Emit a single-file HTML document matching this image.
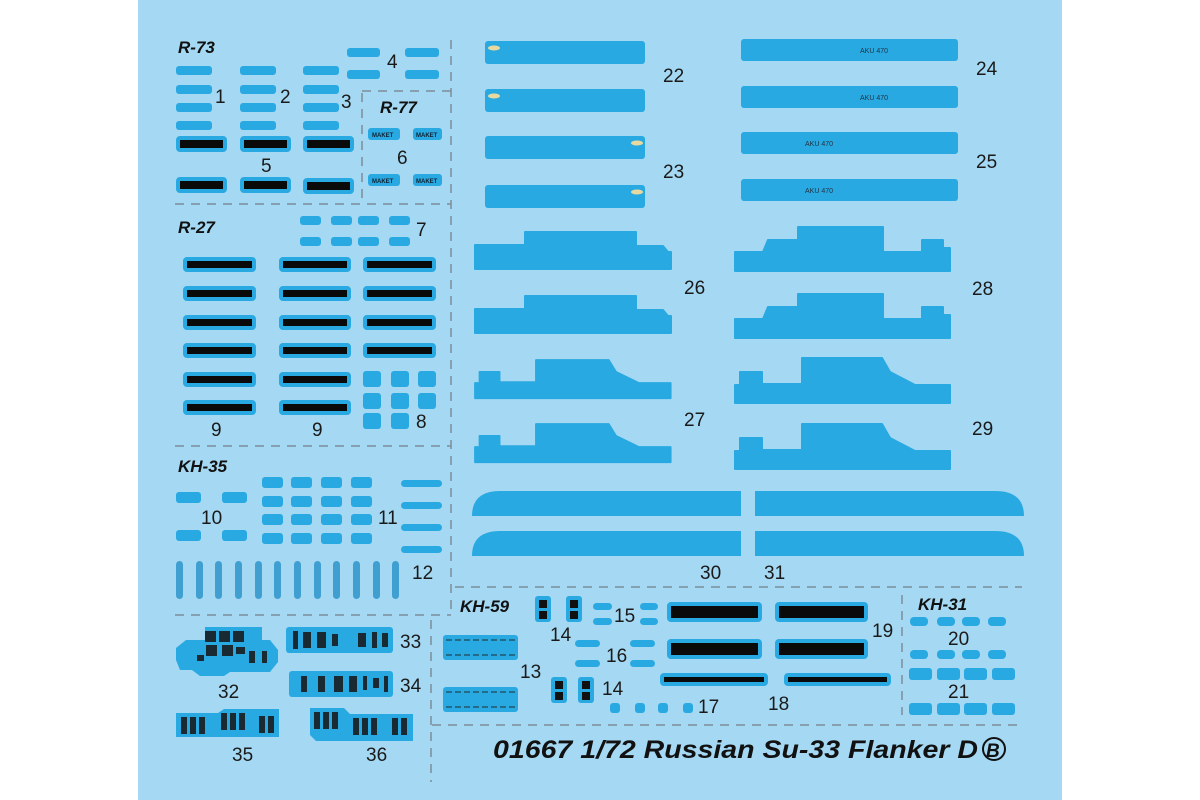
<!DOCTYPE html>
<html><head><meta charset="utf-8"><style>
html,body{margin:0;padding:0;background:#fff;width:1200px;height:800px;overflow:hidden}
svg{display:block}
.n{font-family:"Liberation Sans",sans-serif;font-size:19px;fill:#1a1a1a}
.h{font-family:"Liberation Sans",sans-serif;font-size:17px;font-weight:bold;font-style:italic;fill:#111}
.d{fill:#29a9e1}
.k{fill:#0a0a0a;stroke:#29a9e1;stroke-width:4}
.ds{stroke:#7d8e9a;stroke-width:1.5;stroke-dasharray:9 7;fill:none}
.g{fill:#6a7d88}
</style></head><body>
<svg width="1200" height="800" viewBox="0 0 1200 800" xmlns="http://www.w3.org/2000/svg">
<rect x="138" y="0" width="924" height="800" fill="#a4d8f3"/>

<!-- dashed lines -->
<path class="ds" d="M451 40 V615 M175 615 H451 M362 93 V204 M362 91 H451 M175 204 H451 M175 446 H451 M455 587 H1022 M431 620 V782 M432 725 H1022 M902 595 V715"/>

<!-- R-73 -->
<text class="h" x="178" y="53">R-73</text>
<g class="d">
<rect x="176" y="66" width="36" height="9" rx="3"/><rect x="176" y="85" width="36" height="9" rx="3"/><rect x="176" y="103" width="36" height="9" rx="3"/><rect x="176" y="121" width="36" height="9" rx="3"/>
<rect x="240" y="66" width="36" height="9" rx="3"/><rect x="240" y="85" width="36" height="9" rx="3"/><rect x="240" y="103" width="36" height="9" rx="3"/><rect x="240" y="121" width="36" height="9" rx="3"/>
<rect x="303" y="66" width="36" height="9" rx="3"/><rect x="303" y="85" width="36" height="9" rx="3"/><rect x="303" y="103" width="36" height="9" rx="3"/><rect x="303" y="121" width="36" height="9" rx="3"/>
<rect x="347" y="48" width="33" height="9" rx="3"/><rect x="405" y="48" width="34" height="9" rx="3"/><rect x="347" y="70" width="33" height="9" rx="3"/><rect x="405" y="70" width="34" height="9" rx="3"/>
</g>
<text class="n" x="215" y="103">1</text><text class="n" x="280" y="103">2</text><text class="n" x="341" y="108">3</text><text class="n" x="387" y="68">4</text>
<rect class="k" x="178" y="138" width="47" height="12" rx="2"/><rect class="k" x="242" y="138" width="47" height="12" rx="2"/><rect class="k" x="305" y="138" width="47" height="12" rx="2"/>
<rect class="k" x="178" y="179" width="47" height="12" rx="2"/><rect class="k" x="242" y="179" width="47" height="12" rx="2"/><rect class="k" x="305" y="180" width="47" height="12" rx="2"/>
<text class="n" x="261" y="172">5</text>
<text class="h" x="380" y="113">R-77</text>
<g class="d"><rect x="368" y="128" width="32" height="12" rx="3"/><rect x="413" y="128" width="29" height="12" rx="3"/><rect x="368" y="174" width="32" height="12" rx="3"/><rect x="413" y="174" width="29" height="12" rx="3"/></g>
<g font-family="Liberation Sans" font-size="6" fill="#123" font-weight="bold"><text x="372" y="137">MAKET</text><text x="416" y="137">MAKET</text><text x="372" y="183">MAKET</text><text x="416" y="183">MAKET</text></g>
<text class="n" x="397" y="164">6</text>

<!-- R-27 -->
<text class="h" x="178" y="233">R-27</text>
<g class="d">
<rect x="300" y="216" width="21" height="9" rx="3"/><rect x="331" y="216" width="21" height="9" rx="3"/><rect x="358" y="216" width="21" height="9" rx="3"/><rect x="389" y="216" width="21" height="9" rx="3"/>
<rect x="300" y="237" width="21" height="9" rx="3"/><rect x="331" y="237" width="21" height="9" rx="3"/><rect x="358" y="237" width="21" height="9" rx="3"/><rect x="389" y="237" width="21" height="9" rx="3"/>
<rect x="363" y="371" width="18" height="16" rx="3"/><rect x="391" y="371" width="18" height="16" rx="3"/><rect x="418" y="371" width="18" height="16" rx="3"/>
<rect x="363" y="393" width="18" height="16" rx="3"/><rect x="391" y="393" width="18" height="16" rx="3"/><rect x="418" y="393" width="18" height="16" rx="3"/>
<rect x="363" y="413" width="18" height="16" rx="3"/><rect x="391" y="413" width="18" height="16" rx="3"/>
</g>
<text class="n" x="416" y="236">7</text><text class="n" x="416" y="428">8</text>
<g>
<rect class="k" x="185" y="259" width="69" height="11" rx="2"/><rect class="k" x="281" y="259" width="68" height="11" rx="2"/><rect class="k" x="365" y="259" width="69" height="11" rx="2"/>
<rect class="k" x="185" y="288" width="69" height="11" rx="2"/><rect class="k" x="281" y="288" width="68" height="11" rx="2"/><rect class="k" x="365" y="288" width="69" height="11" rx="2"/>
<rect class="k" x="185" y="317" width="69" height="11" rx="2"/><rect class="k" x="281" y="317" width="68" height="11" rx="2"/><rect class="k" x="365" y="317" width="69" height="11" rx="2"/>
<rect class="k" x="185" y="345" width="69" height="11" rx="2"/><rect class="k" x="281" y="345" width="68" height="11" rx="2"/><rect class="k" x="365" y="345" width="69" height="11" rx="2"/>
<rect class="k" x="185" y="374" width="69" height="11" rx="2"/><rect class="k" x="281" y="374" width="68" height="11" rx="2"/>
<rect class="k" x="185" y="402" width="69" height="11" rx="2"/><rect class="k" x="281" y="402" width="68" height="11" rx="2"/>
</g>
<text class="n" x="211" y="436">9</text><text class="n" x="312" y="436">9</text>

<!-- KH-35 -->
<text class="h" x="178" y="472">KH-35</text>
<g class="d">
<rect x="176" y="492" width="25" height="11" rx="3"/><rect x="222" y="492" width="25" height="11" rx="3"/><rect x="176" y="530" width="25" height="11" rx="3"/><rect x="222" y="530" width="25" height="11" rx="3"/>
<rect x="262" y="477" width="21" height="11" rx="3"/><rect x="291" y="477" width="21" height="11" rx="3"/><rect x="321" y="477" width="21" height="11" rx="3"/><rect x="351" y="477" width="21" height="11" rx="3"/>
<rect x="262" y="496" width="21" height="11" rx="3"/><rect x="291" y="496" width="21" height="11" rx="3"/><rect x="321" y="496" width="21" height="11" rx="3"/><rect x="351" y="496" width="21" height="11" rx="3"/>
<rect x="262" y="514" width="21" height="11" rx="3"/><rect x="291" y="514" width="21" height="11" rx="3"/><rect x="321" y="514" width="21" height="11" rx="3"/><rect x="351" y="514" width="21" height="11" rx="3"/>
<rect x="262" y="533" width="21" height="11" rx="3"/><rect x="291" y="533" width="21" height="11" rx="3"/><rect x="321" y="533" width="21" height="11" rx="3"/><rect x="351" y="533" width="21" height="11" rx="3"/>
<rect x="401" y="480" width="41" height="7" rx="3.5"/><rect x="401" y="502" width="41" height="7" rx="3.5"/><rect x="401" y="524" width="41" height="7" rx="3.5"/><rect x="401" y="546" width="41" height="7" rx="3.5"/>
</g>
<g fill="#3f9fd0">
<rect x="176" y="561" width="7" height="38" rx="3.5"/><rect x="196" y="561" width="7" height="38" rx="3.5"/><rect x="215" y="561" width="7" height="38" rx="3.5"/><rect x="235" y="561" width="7" height="38" rx="3.5"/><rect x="255" y="561" width="7" height="38" rx="3.5"/><rect x="274" y="561" width="7" height="38" rx="3.5"/><rect x="294" y="561" width="7" height="38" rx="3.5"/><rect x="314" y="561" width="7" height="38" rx="3.5"/><rect x="333" y="561" width="7" height="38" rx="3.5"/><rect x="353" y="561" width="7" height="38" rx="3.5"/><rect x="373" y="561" width="7" height="38" rx="3.5"/><rect x="392" y="561" width="7" height="38" rx="3.5"/>
</g>
<text class="n" x="201" y="524">10</text><text class="n" x="378" y="524">11</text><text class="n" x="412" y="579">12</text>

<!-- 22-25 -->
<g class="d">
<rect x="485" y="41" width="160" height="23" rx="3"/><rect x="485" y="89" width="160" height="23" rx="3"/><rect x="485" y="136" width="160" height="23" rx="3"/><rect x="485" y="185" width="160" height="23" rx="3"/>
<rect x="741" y="39" width="217" height="22" rx="3"/><rect x="741" y="86" width="217" height="22" rx="3"/><rect x="741" y="132" width="217" height="22" rx="3"/><rect x="741" y="179" width="217" height="22" rx="3"/>
</g>
<g font-family="Liberation Sans" font-size="7" fill="#234"><text x="860" y="53">AKU 470</text><text x="860" y="100">AKU 470</text><text x="805" y="146">AKU 470</text><text x="805" y="193">AKU 470</text></g>
<g fill="#e8d9a0"><ellipse cx="494" cy="48" rx="6" ry="2.5"/><ellipse cx="494" cy="96" rx="6" ry="2.5"/><ellipse cx="637" cy="143" rx="6" ry="2.5"/><ellipse cx="637" cy="192" rx="6" ry="2.5"/></g>
<text class="n" x="663" y="82">22</text><text class="n" x="663" y="178">23</text><text class="n" x="976" y="75">24</text><text class="n" x="976" y="168">25</text>

<!-- 26-29 shapes -->
<g class="d" stroke="#29a9e1" stroke-width="2" stroke-linejoin="round">
<polygon transform="translate(475,232)" points="0,13 50,13 50,0 161,0 161,14 188,14 193,20 196,20 196,37 0,37"/>
<polygon transform="translate(475,296)" points="0,13 50,13 50,0 161,0 161,14 188,14 193,20 196,20 196,37 0,37"/>
<polygon transform="translate(475,360) scale(0.91,0.85)" points="0,27 5,27 5,14 27,14 27,26 67,26 67,0 147,0 155,14 180,27 198,27 215,27 215,45 0,45"/>
<polygon transform="translate(475,424) scale(0.91,0.85)" points="0,27 5,27 5,14 27,14 27,26 67,26 67,0 147,0 155,14 180,27 198,27 215,27 215,45 0,45"/>
<polygon transform="translate(735,227)" points="0,25 28,25 33,13 63,13 63,0 148,0 148,25 187,25 187,13 208,13 208,21 215,21 215,44 0,44"/>
<polygon transform="translate(735,294)" points="0,25 28,25 33,13 63,13 63,0 148,0 148,25 187,25 187,13 208,13 208,21 215,21 215,44 0,44"/>
<polygon transform="translate(735,358)" points="0,27 5,27 5,14 27,14 27,26 67,26 67,0 147,0 155,14 180,27 198,27 215,27 215,45 0,45"/>
<polygon transform="translate(735,424)" points="0,27 5,27 5,14 27,14 27,26 67,26 67,0 147,0 155,14 180,27 198,27 215,27 215,45 0,45"/>
</g>
<text class="n" x="684" y="294">26</text><text class="n" x="684" y="426">27</text><text class="n" x="972" y="295">28</text><text class="n" x="972" y="435">29</text>

<!-- 30/31 -->
<g class="d">
<path d="M472 516 Q472 491 500 491 H741 V516 Z"/><path d="M472 556 Q472 531 500 531 H741 V556 Z"/>
<path d="M755 491 H995 Q1024 491 1024 516 H755 Z"/><path d="M755 531 H995 Q1024 531 1024 556 H755 Z"/>
</g>
<text class="n" x="700" y="579">30</text><text class="n" x="764" y="579">31</text>

<!-- KH-59 -->
<text class="h" x="460" y="612">KH-59</text>
<g class="d">
<rect x="443" y="635" width="75" height="25" rx="3"/><rect x="443" y="687" width="75" height="25" rx="3"/>
<rect x="535" y="596" width="16" height="26" rx="3"/><rect x="566" y="596" width="16" height="26" rx="3"/>
<rect x="551" y="677" width="16" height="26" rx="3"/><rect x="578" y="677" width="16" height="26" rx="3"/>
<rect x="593" y="603" width="19" height="7" rx="3.5"/><rect x="593" y="618" width="19" height="7" rx="3.5"/><rect x="640" y="603" width="18" height="7" rx="3.5"/><rect x="640" y="618" width="18" height="7" rx="3.5"/>
<rect x="575" y="640" width="25" height="7" rx="3.5"/><rect x="575" y="660" width="25" height="7" rx="3.5"/><rect x="630" y="640" width="25" height="7" rx="3.5"/><rect x="630" y="660" width="25" height="7" rx="3.5"/>
<rect x="610" y="703" width="10" height="10" rx="3"/><rect x="635" y="703" width="10" height="10" rx="3"/><rect x="658" y="703" width="10" height="10" rx="3"/><rect x="683" y="703" width="10" height="10" rx="3"/>
</g>
<g fill="#111"><rect x="539" y="600" width="8" height="8"/><rect x="539" y="611" width="8" height="8"/><rect x="570" y="600" width="8" height="8"/><rect x="570" y="611" width="8" height="8"/>
<rect x="555" y="681" width="8" height="8"/><rect x="555" y="692" width="8" height="8"/><rect x="582" y="681" width="8" height="8"/><rect x="582" y="692" width="8" height="8"/></g>
<path d="M446 640 H515 M446 655 H515 M446 692 H515 M446 707 H515" stroke="#245" stroke-width="1.2" stroke-dasharray="6 3"/>
<text class="n" x="550" y="641">14</text><text class="n" x="602" y="695">14</text><text class="n" x="520" y="678">13</text>
<text class="n" x="614" y="622">15</text><text class="n" x="606" y="662">16</text><text class="n" x="698" y="713">17</text>
<rect class="k" x="669" y="604" width="91" height="16" rx="2"/><rect class="k" x="777" y="604" width="89" height="16" rx="2"/>
<rect class="k" x="669" y="641" width="91" height="16" rx="2"/><rect class="k" x="777" y="641" width="89" height="16" rx="2"/>
<rect class="k" x="662" y="675" width="104" height="9" rx="2"/><rect class="k" x="786" y="675" width="103" height="9" rx="2"/>
<text class="n" x="872" y="637">19</text><text class="n" x="768" y="710">18</text>

<!-- KH-31 -->
<text class="h" x="918" y="610">KH-31</text>
<g class="d">
<rect x="910" y="617" width="18" height="9" rx="4"/><rect x="937" y="617" width="18" height="9" rx="4"/><rect x="962" y="617" width="18" height="9" rx="4"/><rect x="988" y="617" width="18" height="9" rx="4"/>
<rect x="910" y="650" width="18" height="9" rx="4"/><rect x="937" y="650" width="18" height="9" rx="4"/><rect x="962" y="650" width="18" height="9" rx="4"/><rect x="988" y="650" width="18" height="9" rx="4"/>
<rect x="909" y="668" width="23" height="12" rx="3"/><rect x="937" y="668" width="23" height="12" rx="3"/><rect x="964" y="668" width="23" height="12" rx="3"/><rect x="992" y="668" width="23" height="12" rx="3"/>
<rect x="909" y="703" width="23" height="12" rx="3"/><rect x="937" y="703" width="23" height="12" rx="3"/><rect x="964" y="703" width="23" height="12" rx="3"/><rect x="992" y="703" width="23" height="12" rx="3"/>
</g>
<text class="n" x="948" y="645">20</text><text class="n" x="948" y="698">21</text>

<!-- cockpit 32-36 -->
<g class="d">
<path d="M205 627 H262 V640 H270 L278 650 V662 L270 672 H230 L224 676 H200 L192 670 H180 L176 660 V648 L186 640 H205 Z"/>
<rect x="286" y="627" width="107" height="26" rx="3"/>
<rect x="289" y="671" width="104" height="26" rx="3"/>
<path d="M176 713 H218 L224 709 H279 V737 H176 Z"/>
<path d="M310 708 H344 L350 714 H413 V741 H316 L310 735 Z"/>
</g>
<g fill="#1a2a33">
<rect x="205" y="631" width="11" height="11"/><rect x="219" y="631" width="11" height="11"/><rect x="233" y="631" width="11" height="11"/>
<rect x="206" y="645" width="11" height="11"/><rect x="222" y="645" width="11" height="11"/><rect x="236" y="647" width="9" height="7"/><rect x="249" y="651" width="6" height="12"/><rect x="262" y="651" width="5" height="12"/>
<rect x="197" y="655" width="7" height="6"/>
<rect x="293" y="631" width="5" height="18"/><rect x="303" y="632" width="8" height="16"/><rect x="317" y="632" width="9" height="16"/><rect x="332" y="634" width="6" height="12"/><rect x="358" y="633" width="8" height="14"/><rect x="372" y="632" width="5" height="16"/><rect x="382" y="633" width="6" height="14"/>
<rect x="301" y="676" width="6" height="16"/><rect x="318" y="676" width="7" height="16"/><rect x="334" y="676" width="9" height="16"/><rect x="349" y="676" width="8" height="16"/><rect x="363" y="676" width="4" height="14"/><rect x="373" y="678" width="6" height="10"/><rect x="384" y="676" width="4" height="16"/>
<rect x="181" y="717" width="6" height="17"/><rect x="190" y="717" width="6" height="17"/><rect x="199" y="717" width="6" height="17"/><rect x="221" y="713" width="6" height="17"/><rect x="230" y="713" width="6" height="17"/><rect x="239" y="713" width="6" height="17"/><rect x="259" y="716" width="6" height="17"/><rect x="268" y="716" width="6" height="17"/>
<rect x="314" y="712" width="6" height="17"/><rect x="323" y="712" width="6" height="17"/><rect x="332" y="712" width="6" height="17"/><rect x="353" y="718" width="6" height="17"/><rect x="362" y="718" width="6" height="17"/><rect x="371" y="718" width="6" height="17"/><rect x="392" y="718" width="6" height="17"/><rect x="401" y="718" width="6" height="17"/>
</g>
<text class="n" x="218" y="698">32</text><text class="n" x="400" y="648">33</text><text class="n" x="400" y="692">34</text>
<text class="n" x="232" y="761">35</text><text class="n" x="366" y="761">36</text>

<!-- title -->
<text x="493" y="758" font-family="Liberation Sans,sans-serif" font-size="25" font-weight="bold" font-style="italic" fill="#111" textLength="485" lengthAdjust="spacingAndGlyphs">01667 1/72 Russian Su-33 Flanker D</text>
<circle cx="994" cy="749" r="11" fill="none" stroke="#111" stroke-width="2"/>
<text x="986" y="757" font-family="Liberation Sans,sans-serif" font-size="19" font-weight="bold" font-style="italic" fill="#111">B</text>
</svg>
</body></html>
